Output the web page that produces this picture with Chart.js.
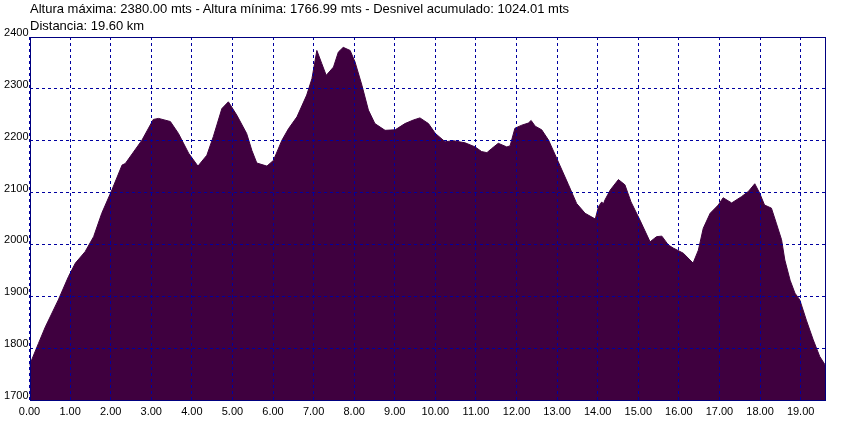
<!DOCTYPE html>
<html>
<head>
<meta charset="utf-8">
<script src="https://cdn.jsdelivr.net/npm/chart.js@4/dist/chart.umd.min.js"></script>
<style>
  html, body { margin: 0; padding: 0; background: #ffffff; }
  #wrap { position: relative; width: 860px; height: 432px; }
  canvas { position: absolute; left: 0; top: 0; }
  .hdr { position: absolute; left: 30px; font-family: "Liberation Sans", Arial, sans-serif; font-size: 13px; color: #000; white-space: nowrap; line-height: 14px; }
</style>
</head>
<body>
<div id="wrap">
  <canvas id="c" width="860" height="432"></canvas>
  <div class="hdr" style="top:2px;">Altura máxima: 2380.00 mts - Altura mínima: 1766.99 mts - Desnivel acumulado: 1024.01 mts</div>
  <div class="hdr" style="top:19px;">Distancia: 19.60 km</div>
</div>
<script>
const distanceKm = [0.00,0.22,0.39,0.71,0.96,1.13,1.37,1.58,1.78,2.03,2.28,2.36,2.77,3.05,3.18,3.47,3.67,3.92,4.15,4.37,4.53,4.74,4.90,5.11,5.35,5.48,5.60,5.85,6.01,6.22,6.38,6.59,6.83,6.96,7.08,7.20,7.31,7.49,7.61,7.73,7.90,8.02,8.19,8.35,8.51,8.76,9.01,9.25,9.46,9.62,9.83,10.00,10.24,10.44,10.73,10.98,11.14,11.27,11.39,11.55,11.76,11.84,11.96,12.13,12.29,12.36,12.46,12.62,12.79,13.03,13.28,13.48,13.69,13.94,14.02,14.10,14.14,14.18,14.31,14.51,14.67,14.82,15.04,15.29,15.45,15.58,15.74,15.86,16.11,16.35,16.48,16.60,16.77,16.97,17.09,17.30,17.54,17.71,17.87,17.99,18.11,18.28,18.40,18.53,18.61,18.74,18.86,18.98,19.14,19.31,19.47,19.60];
const elevationM = [1767,1809,1841,1893,1938,1964,1986,2015,2060,2105,2153,2156,2201,2241,2243,2237,2214,2176,2151,2172,2208,2262,2275,2249,2214,2181,2157,2151,2162,2201,2223,2246,2288,2320,2374,2349,2326,2342,2371,2380,2374,2352,2307,2259,2233,2220,2221,2233,2240,2244,2233,2214,2198,2200,2196,2188,2179,2177,2185,2195,2188,2190,2224,2230,2234,2239,2228,2221,2201,2159,2115,2079,2060,2049,2073,2082,2078,2086,2105,2125,2115,2082,2047,2005,2015,2016,1999,1993,1983,1964,1989,2031,2060,2076,2090,2080,2092,2102,2117,2099,2076,2070,2041,2009,1970,1931,1906,1893,1854,1816,1784,1768];
const xTicks = [0,1,2,3,4,5,6,7,8,9,10,11,12,13,14,15,16,17,18,19];
const yTicks = [1700,1800,1900,2000,2100,2200,2300,2400];

const points = distanceKm.map((d, i) => ({ x: d, y: elevationM[i] }));

const borderPlugin = {
  id: 'frame',
  afterDraw(chart) {
    const a = chart.chartArea, ctx = chart.ctx;
    ctx.save();
    ctx.strokeStyle = '#000080';
    ctx.lineWidth = 1;
    ctx.setLineDash([]);
    ctx.strokeRect(Math.round(a.left) + 0.5, Math.round(a.top) + 0.5, Math.round(a.right - a.left) - 1, Math.round(a.bottom - a.top));
    ctx.restore();
  }
};

function gridStyle() {
  return { color: '#0000a0', lineWidth: 1, drawTicks: false, z: 1 };
}

new Chart(document.getElementById('c'), {
  type: 'line',
  data: {
    datasets: [{
      data: points,
      fill: 'start',
      backgroundColor: '#3f003f',
      borderColor: '#3f003f',
      borderWidth: 1,
      pointRadius: 0,
      tension: 0
    }]
  },
  options: {
    responsive: false,
    animation: false,
    events: [],
    layout: { padding: { top: 37, right: 35, left: 0, bottom: 0 } },
    plugins: { legend: { display: false }, tooltip: { enabled: false }, title: { display: false } },
    scales: {
      x: {
        type: 'linear',
        min: 0,
        max: 19.6,
        border: { display: false, dash: [3, 3] },
        grid: gridStyle(),
        afterBuildTicks(scale) { scale.ticks = xTicks.map(v => ({ value: v })); },
        afterFit(scale) { scale.height = 32; },
        ticks: {
          padding: 5,
          maxRotation: 0,
          autoSkip: false,
          color: '#000000',
          font: { family: '"Liberation Sans", Arial, sans-serif', size: 11 },
          callback: v => Number(v).toFixed(2)
        }
      },
      y: {
        type: 'linear',
        min: 1700,
        max: 2400,
        border: { display: false, dash: [3, 3] },
        grid: gridStyle(),
        afterBuildTicks(scale) { scale.ticks = yTicks.map(v => ({ value: v })); },
        afterFit(scale) { scale.width = 29.5; },
        ticks: {
          padding: 1,
          labelOffset: -4,
          autoSkip: false,
          color: '#000000',
          font: { family: '"Liberation Sans", Arial, sans-serif', size: 11 },
          callback: v => String(v)
        }
      }
    }
  },
  plugins: [borderPlugin]
});
</script>
</body>
</html>
